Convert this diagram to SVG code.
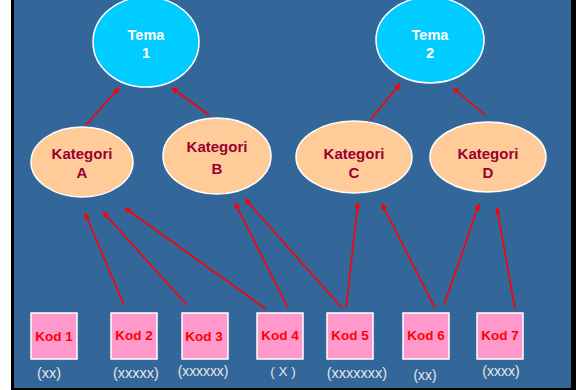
<svg xmlns="http://www.w3.org/2000/svg" width="576" height="390" viewBox="0 0 576 390">
  <style>
    .tema { fill: #00CCFF; stroke: #FFFFFF; stroke-width: 1.5; }
    .kat { fill: #FFCC99; stroke: #FFFFFF; stroke-width: 1.5; }
    .kod { fill: #FF99CC; stroke: #FFFFFF; stroke-width: 1.5; }
    .t-tema { font-family: "Liberation Sans", Arial, sans-serif; font-weight: bold; font-size: 14.5px; fill: #FFFFFF; text-anchor: middle; }
    .t-kat { font-family: "Liberation Sans", Arial, sans-serif; font-weight: bold; font-size: 15px; fill: #990033; text-anchor: middle; }
    .t-kod { font-family: "Liberation Sans", Arial, sans-serif; font-weight: bold; font-size: 13.5px; fill: #FF0000; text-anchor: middle; }
    .t-note { font-family: "Liberation Sans", Arial, sans-serif; font-size: 14.5px; fill: #E6E6E6; text-anchor: middle; }
    .arrow { stroke: #FF0000; stroke-width: 1.6; fill: none; marker-end: url(#head); }
  </style>
  <defs>
    <marker id="head" viewBox="0 0 10 10" refX="9" refY="5" markerWidth="4" markerHeight="4" orient="auto" markerUnits="strokeWidth">
      <path d="M0,0 L10,5 L0,10 z" fill="#FF0000"/>
    </marker>
  </defs>

  <!-- slide frame -->
  <rect x="0" y="0" width="576" height="390" fill="#000000"/>
  <rect x="0" y="0" width="11" height="390" fill="#FFFFFF"/>
  <rect x="14" y="0" width="557" height="388" fill="#336699"/>

  <!-- connectors -->
  <g id="connectors">
    <line class="arrow" x1="86" y1="125" x2="119" y2="88"/>
    <line class="arrow" x1="209" y1="115" x2="172" y2="88"/>
    <line class="arrow" x1="370" y1="120" x2="400" y2="84"/>
    <line class="arrow" x1="485" y1="115" x2="453" y2="88"/>

    <line class="arrow" x1="124" y1="305" x2="85" y2="213"/>
    <line class="arrow" x1="187" y1="305" x2="103" y2="212"/>
    <line class="arrow" x1="266" y1="309" x2="125" y2="208"/>
    <line class="arrow" x1="288" y1="308" x2="235" y2="203"/>
    <line class="arrow" x1="342" y1="308" x2="245" y2="199"/>
    <line class="arrow" x1="346" y1="308" x2="358" y2="203"/>
    <line class="arrow" x1="435" y1="308" x2="382" y2="204"/>
    <line class="arrow" x1="444" y1="305" x2="479" y2="204"/>
    <line class="arrow" x1="515" y1="309" x2="497" y2="208"/>
  </g>

  <!-- themes -->
  <g id="tema1">
    <ellipse class="tema" cx="146" cy="42" rx="53" ry="45"/>
    <text class="t-tema" x="146" y="40">Tema</text>
    <text class="t-tema" x="146" y="58">1</text>
  </g>
  <g id="tema2">
    <ellipse class="tema" cx="430" cy="40" rx="54" ry="43"/>
    <text class="t-tema" x="430" y="40">Tema</text>
    <text class="t-tema" x="430" y="58">2</text>
  </g>

  <!-- categories -->
  <g id="kategoriA">
    <ellipse class="kat" cx="82" cy="162" rx="51" ry="35"/>
    <text class="t-kat" x="82" y="159">Kategori</text>
    <text class="t-kat" x="82" y="178">A</text>
  </g>
  <g id="kategoriB">
    <ellipse class="kat" cx="217" cy="156" rx="54" ry="38"/>
    <text class="t-kat" x="217" y="152">Kategori</text>
    <text class="t-kat" x="217" y="174">B</text>
  </g>
  <g id="kategoriC">
    <ellipse class="kat" cx="354" cy="157" rx="58" ry="36"/>
    <text class="t-kat" x="354" y="159">Kategori</text>
    <text class="t-kat" x="354" y="178">C</text>
  </g>
  <g id="kategoriD">
    <ellipse class="kat" cx="488" cy="157" rx="58" ry="35"/>
    <text class="t-kat" x="488" y="159">Kategori</text>
    <text class="t-kat" x="488" y="178">D</text>
  </g>

  <!-- codes -->
  <g id="kod1">
    <rect class="kod" x="31" y="313" width="46" height="46"/>
    <text class="t-kod" x="54" y="341">Kod 1</text>
    <text class="t-note" x="49" y="378">(xx)</text>
  </g>
  <g id="kod2">
    <rect class="kod" x="111" y="313" width="46" height="46"/>
    <text class="t-kod" x="134" y="340">Kod 2</text>
    <text class="t-note" x="136" y="378">(xxxxx)</text>
  </g>
  <g id="kod3">
    <rect class="kod" x="182" y="313" width="46" height="46"/>
    <text class="t-kod" x="204" y="341">Kod 3</text>
    <text class="t-note" x="203" y="376" style="font-size:13.8px">(xxxxxx)</text>
  </g>
  <g id="kod4">
    <rect class="kod" x="257" y="313" width="46" height="46"/>
    <text class="t-kod" x="280" y="340">Kod 4</text>
    <text class="t-note" x="283" y="376" style="font-size:13.5px">( X )</text>
  </g>
  <g id="kod5">
    <rect class="kod" x="327" y="313" width="46" height="46"/>
    <text class="t-kod" x="350" y="340">Kod 5</text>
    <text class="t-note" x="357" y="378">(xxxxxxx)</text>
  </g>
  <g id="kod6">
    <rect class="kod" x="403" y="313" width="46" height="46"/>
    <text class="t-kod" x="426" y="340">Kod 6</text>
    <text class="t-note" x="425" y="380" style="font-size:13.8px">(xx)</text>
  </g>
  <g id="kod7">
    <rect class="kod" x="477" y="313" width="46" height="46"/>
    <text class="t-kod" x="500" y="340">Kod 7</text>
    <text class="t-note" x="501" y="376" style="font-size:14px">(xxxx)</text>
  </g>
</svg>
